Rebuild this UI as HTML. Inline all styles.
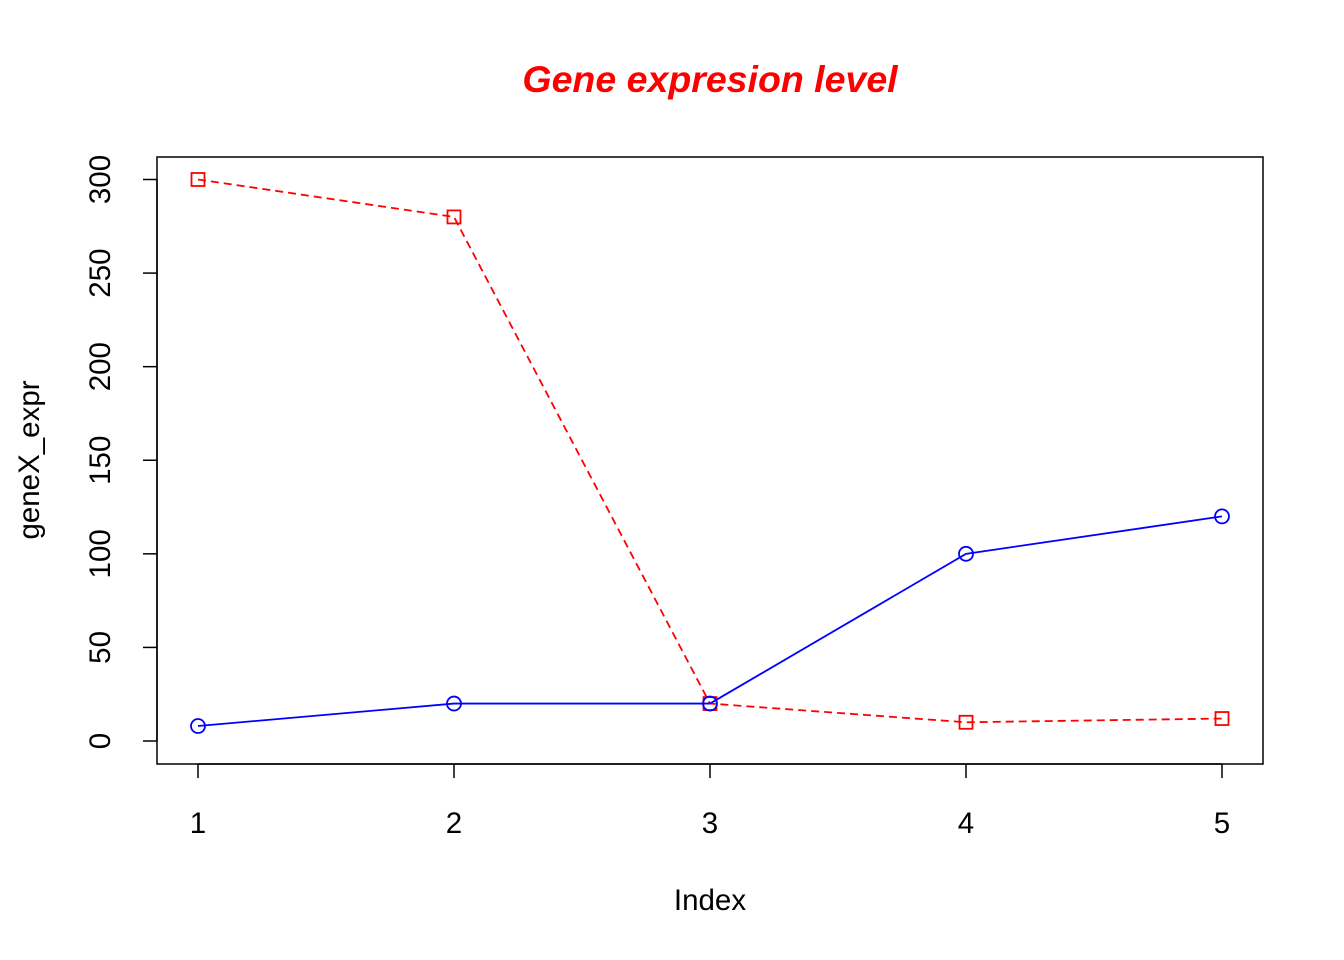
<!DOCTYPE html>
<html><head><meta charset="utf-8"><style>
html,body{margin:0;padding:0;background:#fff;}
svg{display:block;font-family:"Liberation Sans",Arial,sans-serif;}
</style></head><body>
<svg id="chart" width="1344" height="960" viewBox="0 0 1344 960">
<rect width="1344" height="960" fill="#fff"/>
<text x="710" y="92" text-anchor="middle" font-size="37.5" font-weight="bold" font-style="italic" fill="#ff0000">Gene expresion level</text>
<rect x="157" y="157" width="1106" height="607" fill="none" stroke="#000" stroke-width="1.5"/>
<text x="710" y="910" text-anchor="middle" font-size="29.5">Index</text>
<text transform="translate(39,460) rotate(-90)" text-anchor="middle" font-size="29.5">geneX_expr</text>
<g id="axes"></g>
<g id="series"></g>
</svg>
<script>
const categories = [1, 2, 3, 4, 5];
const blueValues = [8, 20, 20, 100, 120];
const redValues = [300, 280, 20, 10, 12];
const yTicks = [0, 50, 100, 150, 200, 250, 300];

const NS = "http://www.w3.org/2000/svg";
function xs(v){ return 198 + (v - 1) * 256; }
function ys(v){ return 741 - v * (741 - 179.5) / 300; }
function mk(tag, attrs, parent){
  const e = document.createElementNS(NS, tag);
  for (const k in attrs) e.setAttribute(k, attrs[k]);
  parent.appendChild(e);
  return e;
}
const axes = document.getElementById('axes');
const series = document.getElementById('series');

let l = mk('line', {x1: xs(1), x2: xs(5), y1: 764, y2: 764, stroke: '#000', 'stroke-width': 1.5}, axes);


categories.forEach(c => {
  const t = mk('line', {x1: xs(c), x2: xs(c), y1: 764, y2: 778, stroke: '#000', 'stroke-width': 1.5}, axes);
  
  
  const tx = mk('text', {x: xs(c), y: 833, 'text-anchor': 'middle', 'font-size': 29.5}, axes);
  tx.textContent = c;
  
  
});
l = mk('line', {x1: 157, x2: 157, y1: ys(0), y2: ys(300), stroke: '#000', 'stroke-width': 1.5}, axes);


yTicks.forEach(v => {
  const t = mk('line', {x1: 143, x2: 157, y1: ys(v), y2: ys(v), stroke: '#000', 'stroke-width': 1.5}, axes);
  
  
  const tx = mk('text', {transform: `translate(110,${ys(v)}) rotate(-90)`, 'text-anchor': 'middle', 'font-size': 29.5}, axes);
  tx.textContent = v;
  
  
});

function drawSeries(vals, color, dash, shape, name){
  const pts = vals.map((v, i) => [xs(categories[i]), ys(v)]);
  const p = mk('polyline', {points: pts.map(p => p.join(',')).join(' '), fill: 'none', stroke: color, 'stroke-width': 1.8, 'stroke-dasharray': dash}, series);
  
  
  pts.forEach(([x, y]) => {
    let m;
    if (shape === 'circle') m = mk('circle', {cx: x, cy: y, r: 7, fill: 'none', stroke: color, 'stroke-width': 1.8}, series);
    else m = mk('rect', {x: x - 6.5, y: y - 6.5, width: 13, height: 13, fill: 'none', stroke: color, 'stroke-width': 1.8}, series);
    
    
  });
}
drawSeries(redValues, '#ff0000', '8,5', 'square', 'red-series');
drawSeries(blueValues, '#0000ff', 'none', 'circle', 'blue-series');
</script>
</body></html>
